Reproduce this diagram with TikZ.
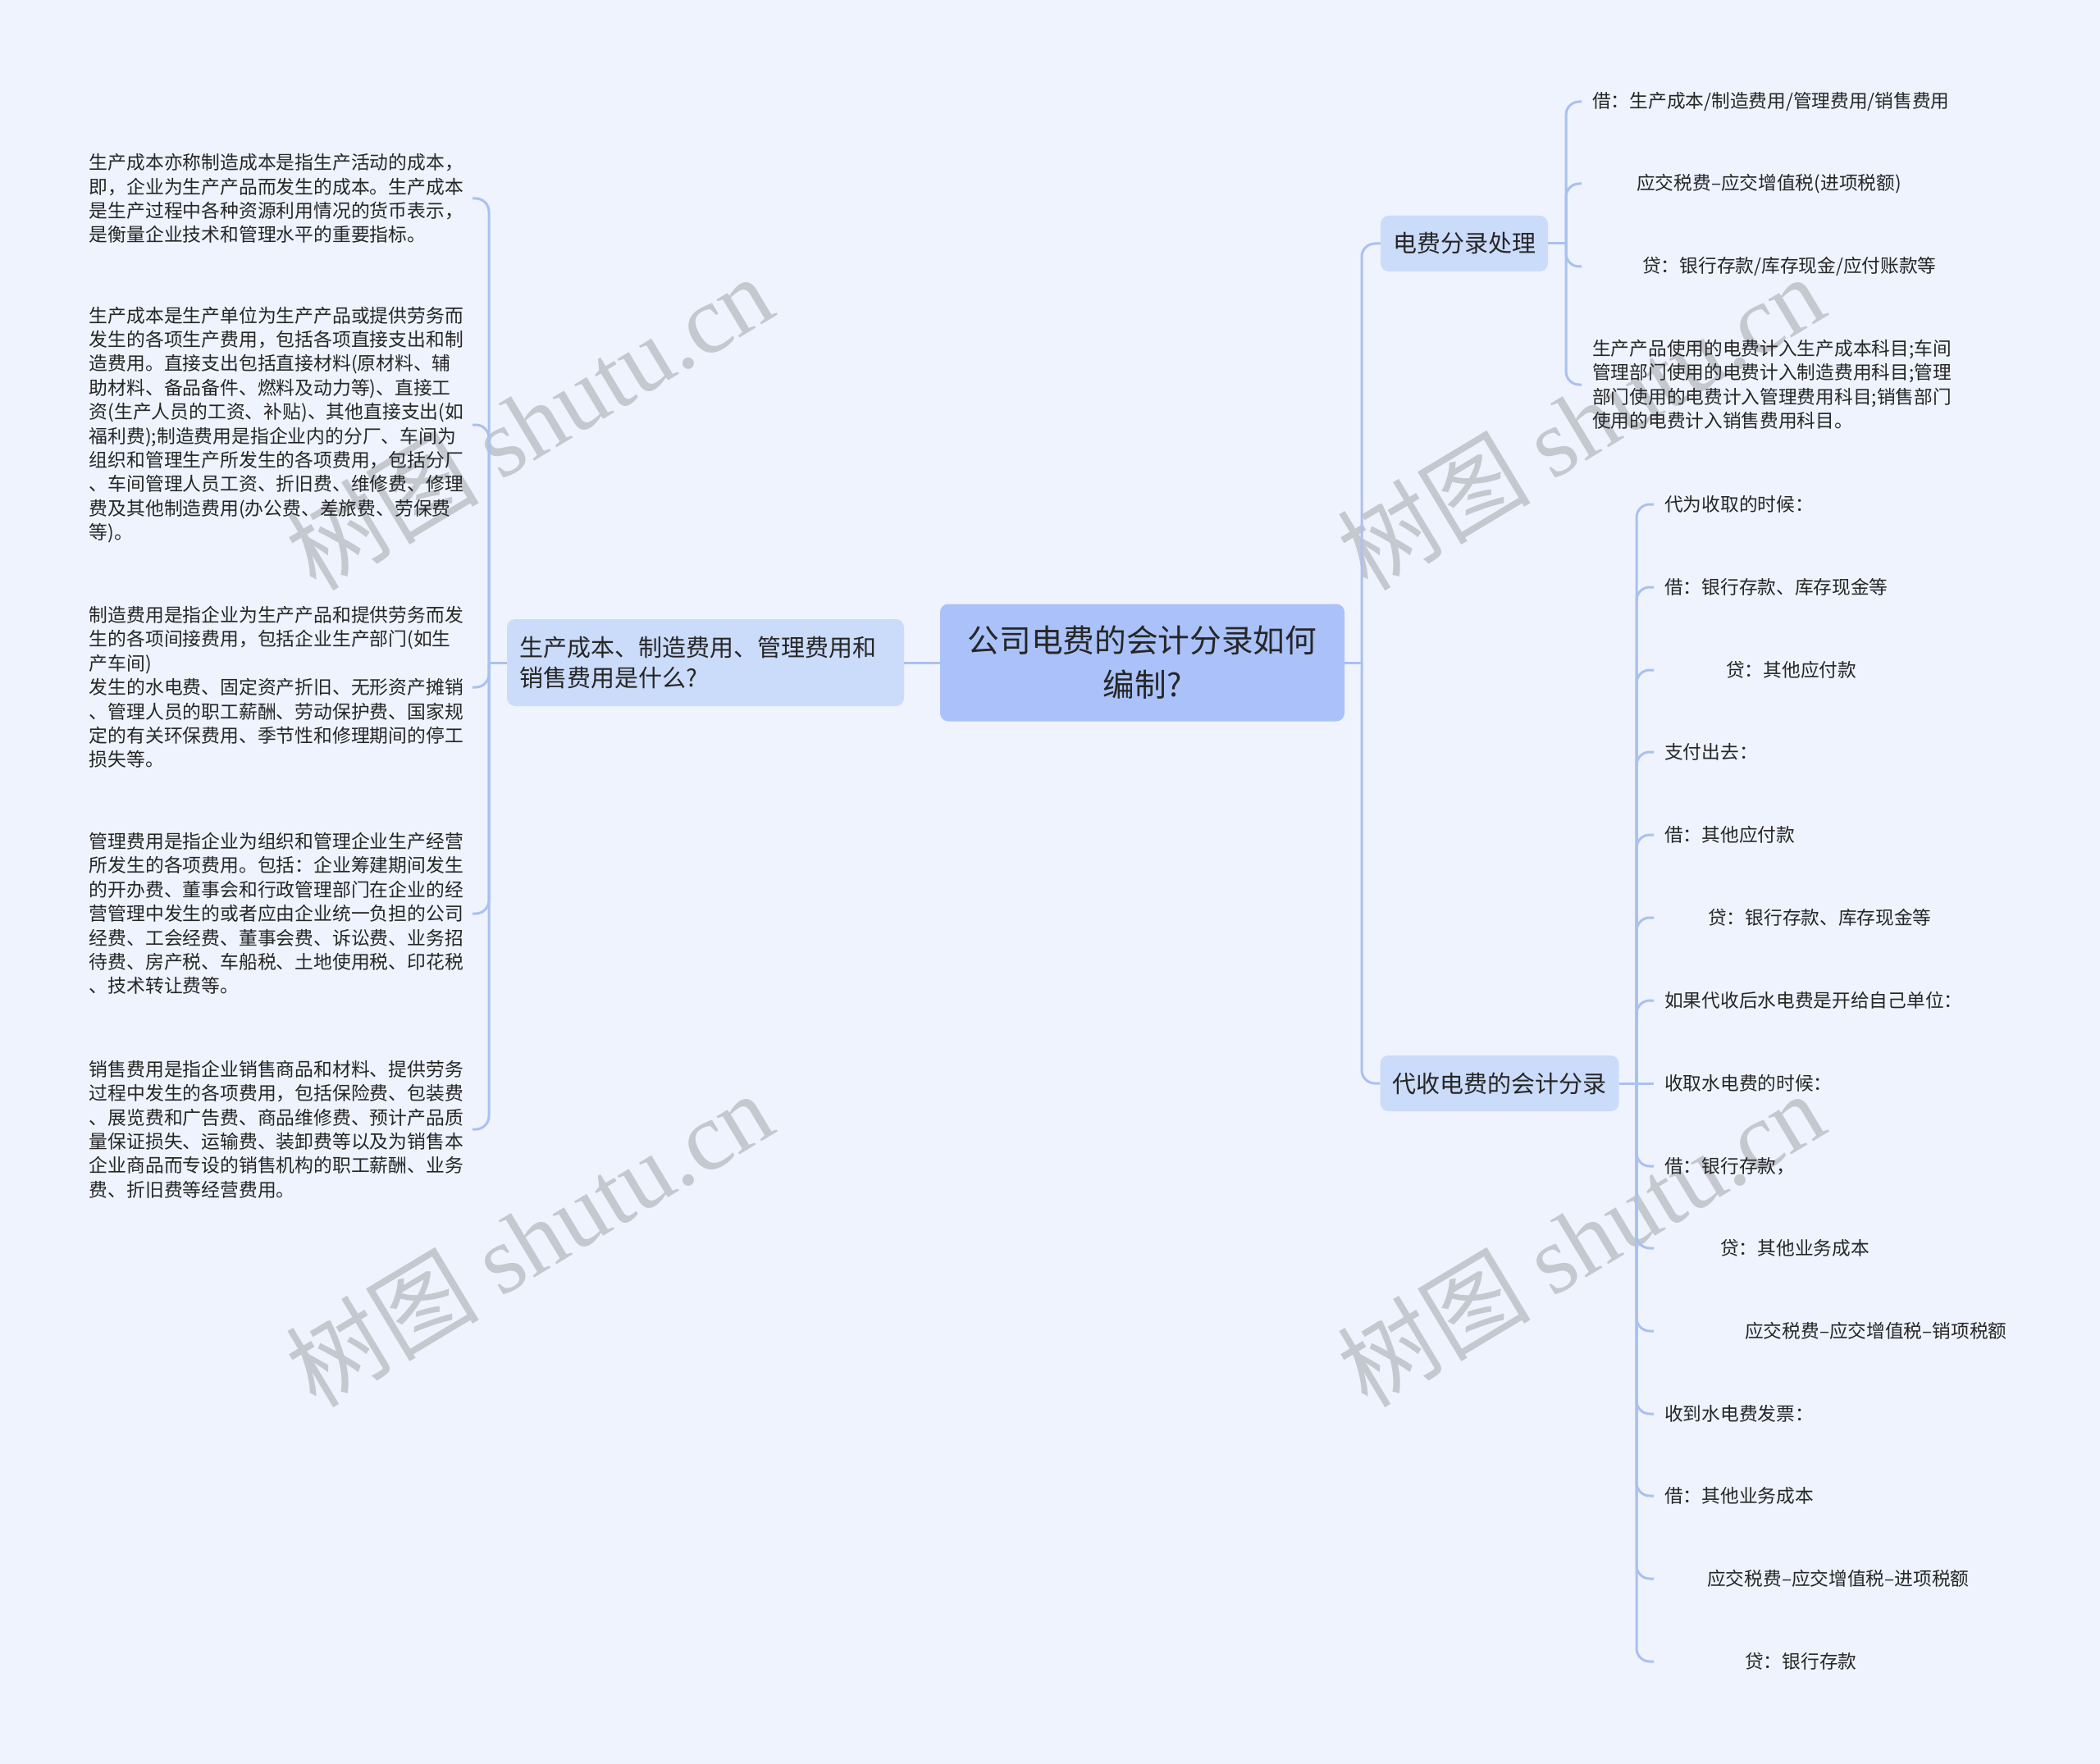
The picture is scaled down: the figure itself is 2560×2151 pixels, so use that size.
\documentclass[tikz,border=0pt]{standalone}
\usepackage{fontspec}
\setmainfont{Noto Sans CJK SC}
\newfontfamily\wmserif{Liberation Serif}
\definecolor{bg}{HTML}{EEF3FD}
\definecolor{rootc}{HTML}{AAC2F9}
\definecolor{lvc}{HTML}{CBDBFA}
\definecolor{lc}{HTML}{AAC1EF}
\definecolor{tc}{HTML}{262626}
\definecolor{wm}{HTML}{C5C8CF}
\tikzset{
  conn/.style={draw=lc, line width=3pt, rounded corners=16pt},
  rootbox/.style={fill=rootc, rounded corners=10pt, minimum width=493pt, minimum height=143pt,
    align=center, inner sep=0pt, text=tc, font=\fontsize{38.7}{54}\selectfont},
  lvbox/.style={fill=lvc, rounded corners=10pt, inner xsep=15pt, minimum height=68pt,
    text=tc, font=\fontsize{29}{37}\selectfont},
  leafL/.style={anchor=east, inner xsep=14pt, inner ysep=0pt, align=left, text width=453pt,
    text=tc, font=\fontsize{22.8}{29.4}\selectfont},
  leafR/.style={anchor=west, inner xsep=13pt, inner ysep=0pt, align=left,
    text=tc, font=\fontsize{22.7}{29.4}\selectfont},
  wmark/.style={rotate=31, text=wm, font=\fontsize{118}{118}\selectfont, inner sep=0pt}
}
\begin{document}
\begin{tikzpicture}[x=1pt,y=-1pt]
\fill[bg] (0,0) rectangle (2560,2151);
\useasboundingbox (0,0) rectangle (2560,2151);

% watermarks
\node[wmark] (w1) at (645,514) {树图 {\wmserif shutu.cn}};
\node[wmark] (w2) at (1927,514) {树图 {\wmserif shutu.cn}};
\node[wmark] (w3) at (645,1510) {树图 {\wmserif shutu.cn}};
\node[wmark] (w4) at (1927,1510) {树图 {\wmserif shutu.cn}};

% main nodes
\node[rootbox] (root) at (1392.5,808) {公司电费的会计分录如何\\编制?};
\node[lvbox, text width=454pt, align=left, minimum height=106pt] (L) at (860,808)
  {生产成本、制造费用、管理费用和\\销售费用是什么?};
\node[lvbox] (n1) at (1785,297) {电费分录处理};
\node[lvbox] (n2) at (1828,1321) {代收电费的会计分录};

% left leaves
\node[leafL] (l1) at (576,242) {生产成本亦称制造成本是指生产活动的成本，\\即，企业为生产产品而发生的成本。生产成本\\是生产过程中各种资源利用情况的货币表示，\\是衡量企业技术和管理水平的重要指标。};
\node[leafL] (l2) at (576,518) {生产成本是生产单位为生产产品或提供劳务而\\发生的各项生产费用，包括各项直接支出和制\\造费用。直接支出包括直接材料(原材料、辅\\助材料、备品备件、燃料及动力等)、直接工\\资(生产人员的工资、补贴)、其他直接支出(如\\福利费);制造费用是指企业内的分厂、车间为\\组织和管理生产所发生的各项费用，包括分厂\\、车间管理人员工资、折旧费、维修费、修理\\费及其他制造费用(办公费、差旅费、劳保费\\等)。};
\node[leafL] (l3) at (576,838) {制造费用是指企业为生产产品和提供劳务而发\\生的各项间接费用，包括企业生产部门(如生\\产车间)\\发生的水电费、固定资产折旧、无形资产摊销\\、管理人员的职工薪酬、劳动保护费、国家规\\定的有关环保费用、季节性和修理期间的停工\\损失等。};
\node[leafL] (l4) at (576,1114) {管理费用是指企业为组织和管理企业生产经营\\所发生的各项费用。包括：企业筹建期间发生\\的开办费、董事会和行政管理部门在企业的经\\营管理中发生的或者应由企业统一负担的公司\\经费、工会经费、董事会费、诉讼费、业务招\\待费、房产税、车船税、土地使用税、印花税\\、技术转让费等。};
\node[leafL] (l5) at (576,1377) {销售费用是指企业销售商品和材料、提供劳务\\过程中发生的各项费用，包括保险费、包装费\\、展览费和广告费、商品维修费、预计产品质\\量保证损失、运输费、装卸费等以及为销售本\\企业商品而专设的销售机构的职工薪酬、业务\\费、折旧费等经营费用。};

% right leaves group 1
\node[leafR] (a1) at (1928,124) {借：生产成本/制造费用/管理费用/销售费用};
\node[leafR] (a2) at (1928,224) {\hspace*{54pt}应交税费–应交增值税(进项税额)};
\node[leafR] (a3) at (1928,325) {\hspace*{61pt}贷：银行存款/库存现金/应付账款等};
\node[leafR] (a4) at (1928,469) {生产产品使用的电费计入生产成本科目;车间\\管理部门使用的电费计入制造费用科目;管理\\部门使用的电费计入管理费用科目;销售部门\\使用的电费计入销售费用科目。};

% right leaves group 2
\node[leafR] (b1) at (2016,615) {代为收取的时候：};
\node[leafR] (b2) at (2016,716) {借：银行存款、库存现金等};
\node[leafR] (b3) at (2016,817) {\hspace*{75pt}贷：其他应付款};
\node[leafR] (b4) at (2016,917) {支付出去：};
\node[leafR] (b5) at (2016,1018) {借：其他应付款};
\node[leafR] (b6) at (2016,1119) {\hspace*{53pt}贷：银行存款、库存现金等};
\node[leafR] (b7) at (2016,1220) {如果代收后水电费是开给自己单位：};
\node[leafR] (b8) at (2016,1321) {收取水电费的时候：};
\node[leafR] (b9) at (2016,1422) {借：银行存款，};
\node[leafR] (b10) at (2016,1522) {\hspace*{68pt}贷：其他业务成本};
\node[leafR] (b11) at (2016,1623) {\hspace*{98pt}应交税费–应交增值税–销项税额};
\node[leafR] (b12) at (2016,1724) {收到水电费发票：};
\node[leafR] (b13) at (2016,1824) {借：其他业务成本};
\node[leafR] (b14) at (2016,1925) {\hspace*{52pt}应交税费–应交增值税–进项税额};
\node[leafR] (b15) at (2016,2026) {\hspace*{98pt}贷：银行存款};

% junctions
\coordinate (lj) at (596,808);
\coordinate (rj) at (1660,808);
\coordinate (j1) at (1909,297);
\coordinate (j2) at (1995,1321);

% connectors
\draw[conn] (root.west) -- (L.east);
\draw[conn] (L.west) -- (lj);
\foreach \k in {l1,l2,l3,l4,l5} { \draw[conn] (lj) |- (\k.east); }
\draw[conn] (root.east) -- (rj);
\draw[conn] (rj) |- (n1.west);
\draw[conn] (rj) |- (n2.west);
\draw[conn] (n1.east) -- (j1);
\foreach \k in {a1,a2,a3,a4} { \draw[conn] (j1) |- (\k.west); }
\draw[conn] (n2.east) -- (j2);
\foreach \k in {b1,b2,b3,b4,b5,b6,b7,b9,b10,b11,b12,b13,b14,b15} { \draw[conn] (j2) |- (\k.west); }
\draw[conn] (j2) -- (b8.west);
\end{tikzpicture}
\end{document}
